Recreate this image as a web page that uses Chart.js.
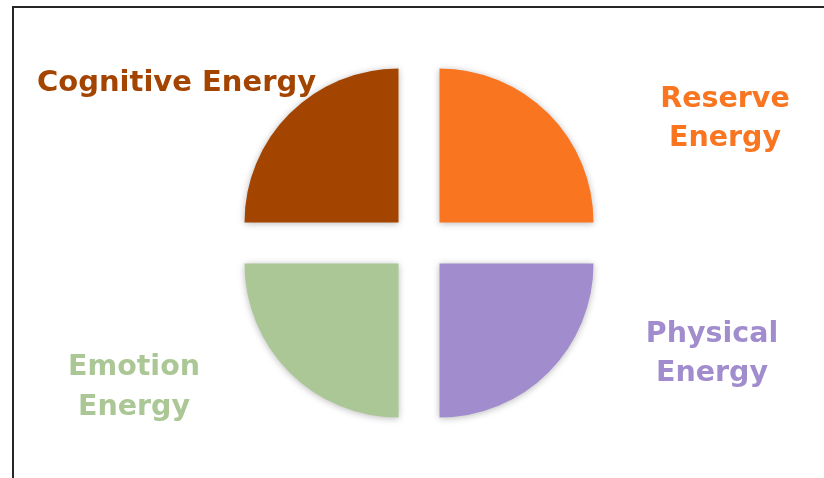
<!DOCTYPE html>
<html>
<head>
<meta charset="utf-8">
<script src="https://cdn.jsdelivr.net/npm/chart.js@4.4.1/dist/chart.umd.min.js"></script>
<style>
  html, body { margin: 0; padding: 0; background: #ffffff; }
  #wrap { position: relative; width: 824px; height: 478px; overflow: hidden; }
  #frame { position: absolute; left: 12px; top: 6px; right: -4px; bottom: -4px;
           border-left: 2px solid #262626; border-top: 2px solid #262626; }
  canvas { position: absolute; left: 0; top: 0; }
</style>
</head>
<body>
<div id="wrap">
  <div id="frame"></div>
  <canvas id="c" width="824" height="478"></canvas>
</div>
<script>
// ---- data ----
const categories = ['Cognitive Energy', 'Reserve Energy', 'Physical Energy', 'Emotion Energy'];
const values = [25, 25, 25, 25];
const colors = ['#A34400', '#F97520', '#A18CCE', '#ABC795'];

// ---- label layout (per category index) ----
const labelLayout = [
  { x: 37,  align: 'left',   wrap: false, size: 29, baselines: [91] },
  { x: 725, align: 'center', wrap: true,  size: 28.5, baselines: [107, 146] },
  { x: 712, align: 'center', wrap: true,  size: 28.5, baselines: [342, 381] },
  { x: 134, align: 'center', wrap: true,  size: 28.5, baselines: [375, 415] }
];

const shadowPlugin = {
  id: 'sliceShadow',
  beforeDatasetsDraw(chart) {
    const ctx = chart.ctx;
    ctx.save();
    ctx.shadowColor = 'rgba(0,0,0,0.28)';
    ctx.shadowBlur = 7;
    ctx.shadowOffsetX = 0;
    ctx.shadowOffsetY = 1;
  },
  afterDatasetsDraw(chart) {
    chart.ctx.restore();
  }
};

const labelPlugin = {
  id: 'outerLabels',
  afterDraw(chart) {
    const ctx = chart.ctx;
    const labels = chart.data.labels;
    const cols = chart.data.datasets[0].backgroundColor;
    ctx.save();
    ctx.textBaseline = 'alphabetic';
    labels.forEach((lab, i) => {
      const lay = labelLayout[i];
      ctx.font = 'bold ' + lay.size + 'px "DejaVu Sans", sans-serif';
      const lines = lay.wrap ? lab.split(' ') : [lab];
      ctx.fillStyle = cols[i];
      ctx.textAlign = lay.align;
      lines.forEach((ln, k) => ctx.fillText(ln, lay.x, lay.baselines[k]));
    });
    ctx.restore();
  }
};

new Chart(document.getElementById('c'), {
  type: 'pie',
  data: {
    labels: categories,
    datasets: [{
      data: values,
      backgroundColor: colors,
      borderWidth: 0,
      offset: 116,
      hoverOffset: 0
    }]
  },
  options: {
    responsive: false,
    animation: false,
    devicePixelRatio: 1,
    rotation: -90,
    radius: 154,
    layout: { padding: { left: 14, right: 0, top: 8, bottom: 0 } },
    plugins: {
      legend: { display: false },
      tooltip: { enabled: false }
    },
    events: []
  },
  plugins: [shadowPlugin, labelPlugin]
});
</script>
</body>
</html>
